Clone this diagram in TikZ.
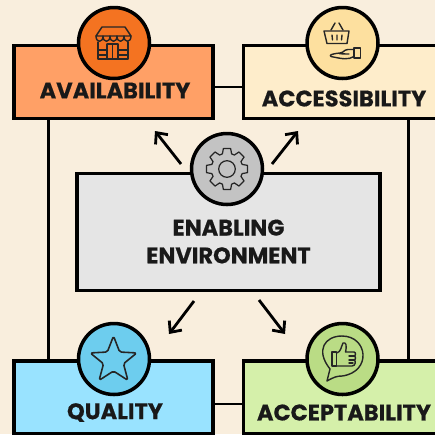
\documentclass[tikz,border=0pt]{standalone}
\usepackage{fontspec}
\setmainfont[BoldFeatures={FakeBold=0.5}]{Poppins}
\usetikzlibrary{arrows.meta}
\definecolor{pagebg}{HTML}{F9EEDD}
\definecolor{availbox}{HTML}{FFA066}
\definecolor{availdot}{HTML}{F47321}
\definecolor{accessbox}{HTML}{FEEDCB}
\definecolor{accessdot}{HTML}{FDE09F}
\definecolor{qualitybox}{HTML}{99E3FF}
\definecolor{qualitydot}{HTML}{6DCDEE}
\definecolor{acceptbox}{HTML}{D5F0AA}
\definecolor{acceptdot}{HTML}{BADC85}
\definecolor{enablebox}{HTML}{E5E5E5}
\definecolor{enabledot}{HTML}{C3C3C3}
\tikzset{
  pillar/.style={draw=black,line width=2pt,minimum width=3.98cm,minimum height=1.46cm,inner sep=0pt},
  badge/.style={circle,draw=black,line width=2pt,minimum size=1.42cm,inner sep=0pt},
  pillartext/.style={font=\fontsize{12.8}{12.8}\selectfont\bfseries,inner sep=0pt,text=black!90},
  link/.style={line width=1.6pt,black},
  pointer/.style={line width=1.6pt,black,-{Straight Barb[length=5pt,width=9pt,line width=1.6pt]}},
  icon/.style={line width=0.8pt,black!85,line join=round,line cap=round}
}
\begin{document}
\begin{tikzpicture}[x=0.02cm,y=-0.02cm]
  \useasboundingbox (0,0) rectangle (435,434);
  \clip (0,0) rectangle (435,434);
  \fill [pagebg] (0,0) rectangle (435,434);

  \node [pillar,fill=availbox] (avail) at (113.5,82) {};
  \node [pillar,fill=accessbox] (access) at (343,82) {};
  \node [pillar,fill=qualitybox] (quality) at (113.5,397.5) {};
  \node [pillar,fill=acceptbox] (accept) at (343,397.5) {};
  \node [pillar,fill=enablebox,minimum width=6.06cm,minimum height=2.34cm] (enable) at (228.5,232) {};

  \draw [link] ([yshift=-0.1cm]avail.east) -- ([yshift=-0.1cm]access.west);
  \draw [link] ([yshift=-0.13cm]quality.east) -- ([yshift=-0.13cm]accept.west);
  \draw [link] ([xshift=0.72cm]avail.south west) -- ([xshift=0.72cm]quality.north west);
  \draw [link] ([xshift=1.31cm]access.south) -- ([xshift=1.31cm]accept.north);

  \node [badge,fill=availdot] (availdot) at (114,43) {};
  \node [badge,fill=accessdot] (accessdot) at (342.5,43) {};
  \node [badge,fill=qualitydot] (qualitydot) at (114,359) {};
  \node [badge,fill=acceptdot] (acceptdot) at (342.5,359) {};
  \node [badge,fill=enabledot] (enabledot) at (227,169) {};

  \node [pillartext] (availtext) at (115,90.5) {AVAILABILITY};
  \node [pillartext] (accesstext) at (344,98.5) {ACCESSIBILITY};
  \node [pillartext] (qualitytext) at (115,412.5) {QUALITY};
  \node [pillartext] (accepttext) at (344,412.5) {ACCEPTABILITY};
  \node [pillartext,align=center] (enabletext) at (228.5,241.5) {ENABLING\\[3pt]ENVIRONMENT};

  \coordinate (nwfrom) at (181,164);
  \coordinate (nwto) at (155,131);
  \coordinate (nefrom) at (272,164);
  \coordinate (neto) at (298,131);
  \coordinate (swfrom) at (194,301);
  \coordinate (swto) at (169,334);
  \coordinate (sefrom) at (259,300);
  \coordinate (seto) at (285,334);
  \draw [pointer] (nwfrom) -- (nwto);
  \draw [pointer] (nefrom) -- (neto);
  \draw [pointer] (swfrom) -- (swto);
  \draw [pointer] (sefrom) -- (seto);

  % shop
  \draw [icon] (102,27) -- (125,27) -- (131,36) -- (96,36) -- cycle;
  \draw [icon] (96,36) .. controls (96,43) and (103,43) .. (103,36)
    .. controls (103,43) and (110,43) .. (110,36)
    .. controls (110,43) and (117,43) .. (117,36)
    .. controls (117,43) and (124,43) .. (124,36)
    .. controls (124,43) and (131,43) .. (131,36);
  \draw [icon] (98,42) -- (98,59) -- (128,59) -- (128,42);
  \draw [icon] (107,44) -- (107,59) (118,44) -- (118,59) (107,44) -- (118,44) (112.5,44) -- (112.5,59);
  \draw [icon] (98,50) -- (107,50) (118,50) -- (128,50) (98,55) -- (107,55) (118,55) -- (128,55);

  % basket on a hand
  \draw [icon] (324,31) -- (349,31) -- (347,43.5) -- (327,43.5) -- cycle;
  \draw [icon] (331,30) -- (335,23) (339,23) -- (343,30);
  \draw [icon] (332,35) -- (332.5,40) (337,35) -- (337,40) (342,35) -- (341.5,40);
  \draw [icon] (354,48) rectangle (360.5,58);
  \draw [icon] (354,49.5) -- (348,49.5) .. controls (343,50) and (345,52) .. (340,53) .. controls (336,54) and (348,54) .. (349,54)
    (354,56.5) .. controls (348,60) and (343,59) .. (331,56.5) .. controls (329,55) and (331,54) .. (340,53);

  % star
  \draw [icon,line width=0.9pt,rounded corners=1pt] (113.5,336)
    \foreach \ang in {36,72,...,324} {
      -- ({113.5+(mod(\ang,72)==0 ? 24.5 : 10.5)*sin(\ang)},{360.5-(mod(\ang,72)==0 ? 24.5 : 10.5)*cos(\ang)})
    } -- cycle;

  % thumb in a speech bubble
  \draw [icon] (330,369) .. controls (315,350) and (325,336) .. (342,336)
    .. controls (368,336) and (372,372) .. (342,376)
    .. controls (337,376) and (334,377) .. (327,381) -- (330,369);
  \draw [icon] (332,352) rectangle (336.5,366);
  \draw [icon] (336.5,353) .. controls (341,352) and (341,347) .. (343,343)
    .. controls (346,342) and (347,345) .. (345.5,352) -- (354,352)
    .. controls (356,352) and (356,356) .. (354,356)
    .. controls (356,356) and (356,360) .. (354,360)
    .. controls (356,360) and (356,366) .. (352,366) -- (336.5,366);
  \draw [icon] (349,356) -- (354,356) (349,360) -- (354,360) (349,363) -- (353,363);

  % gear
  \draw [icon,line width=0.7pt] (227,169) circle [radius=8.3];
  \draw [icon,line width=0.7pt] \foreach \tooth in {0,45,...,315} {
      ({227+15.8*sin(\tooth-17)},{169-15.8*cos(\tooth-17)})
      -- ({227+20.8*sin(\tooth-10)},{169-20.8*cos(\tooth-10)})
      -- ({227+20.8*sin(\tooth+10)},{169-20.8*cos(\tooth+10)})
      -- ({227+15.8*sin(\tooth+17)},{169-15.8*cos(\tooth+17)})
      -- ({227+15.8*sin(\tooth+28)},{169-15.8*cos(\tooth+28)})
    };
\end{tikzpicture}
\end{document}
